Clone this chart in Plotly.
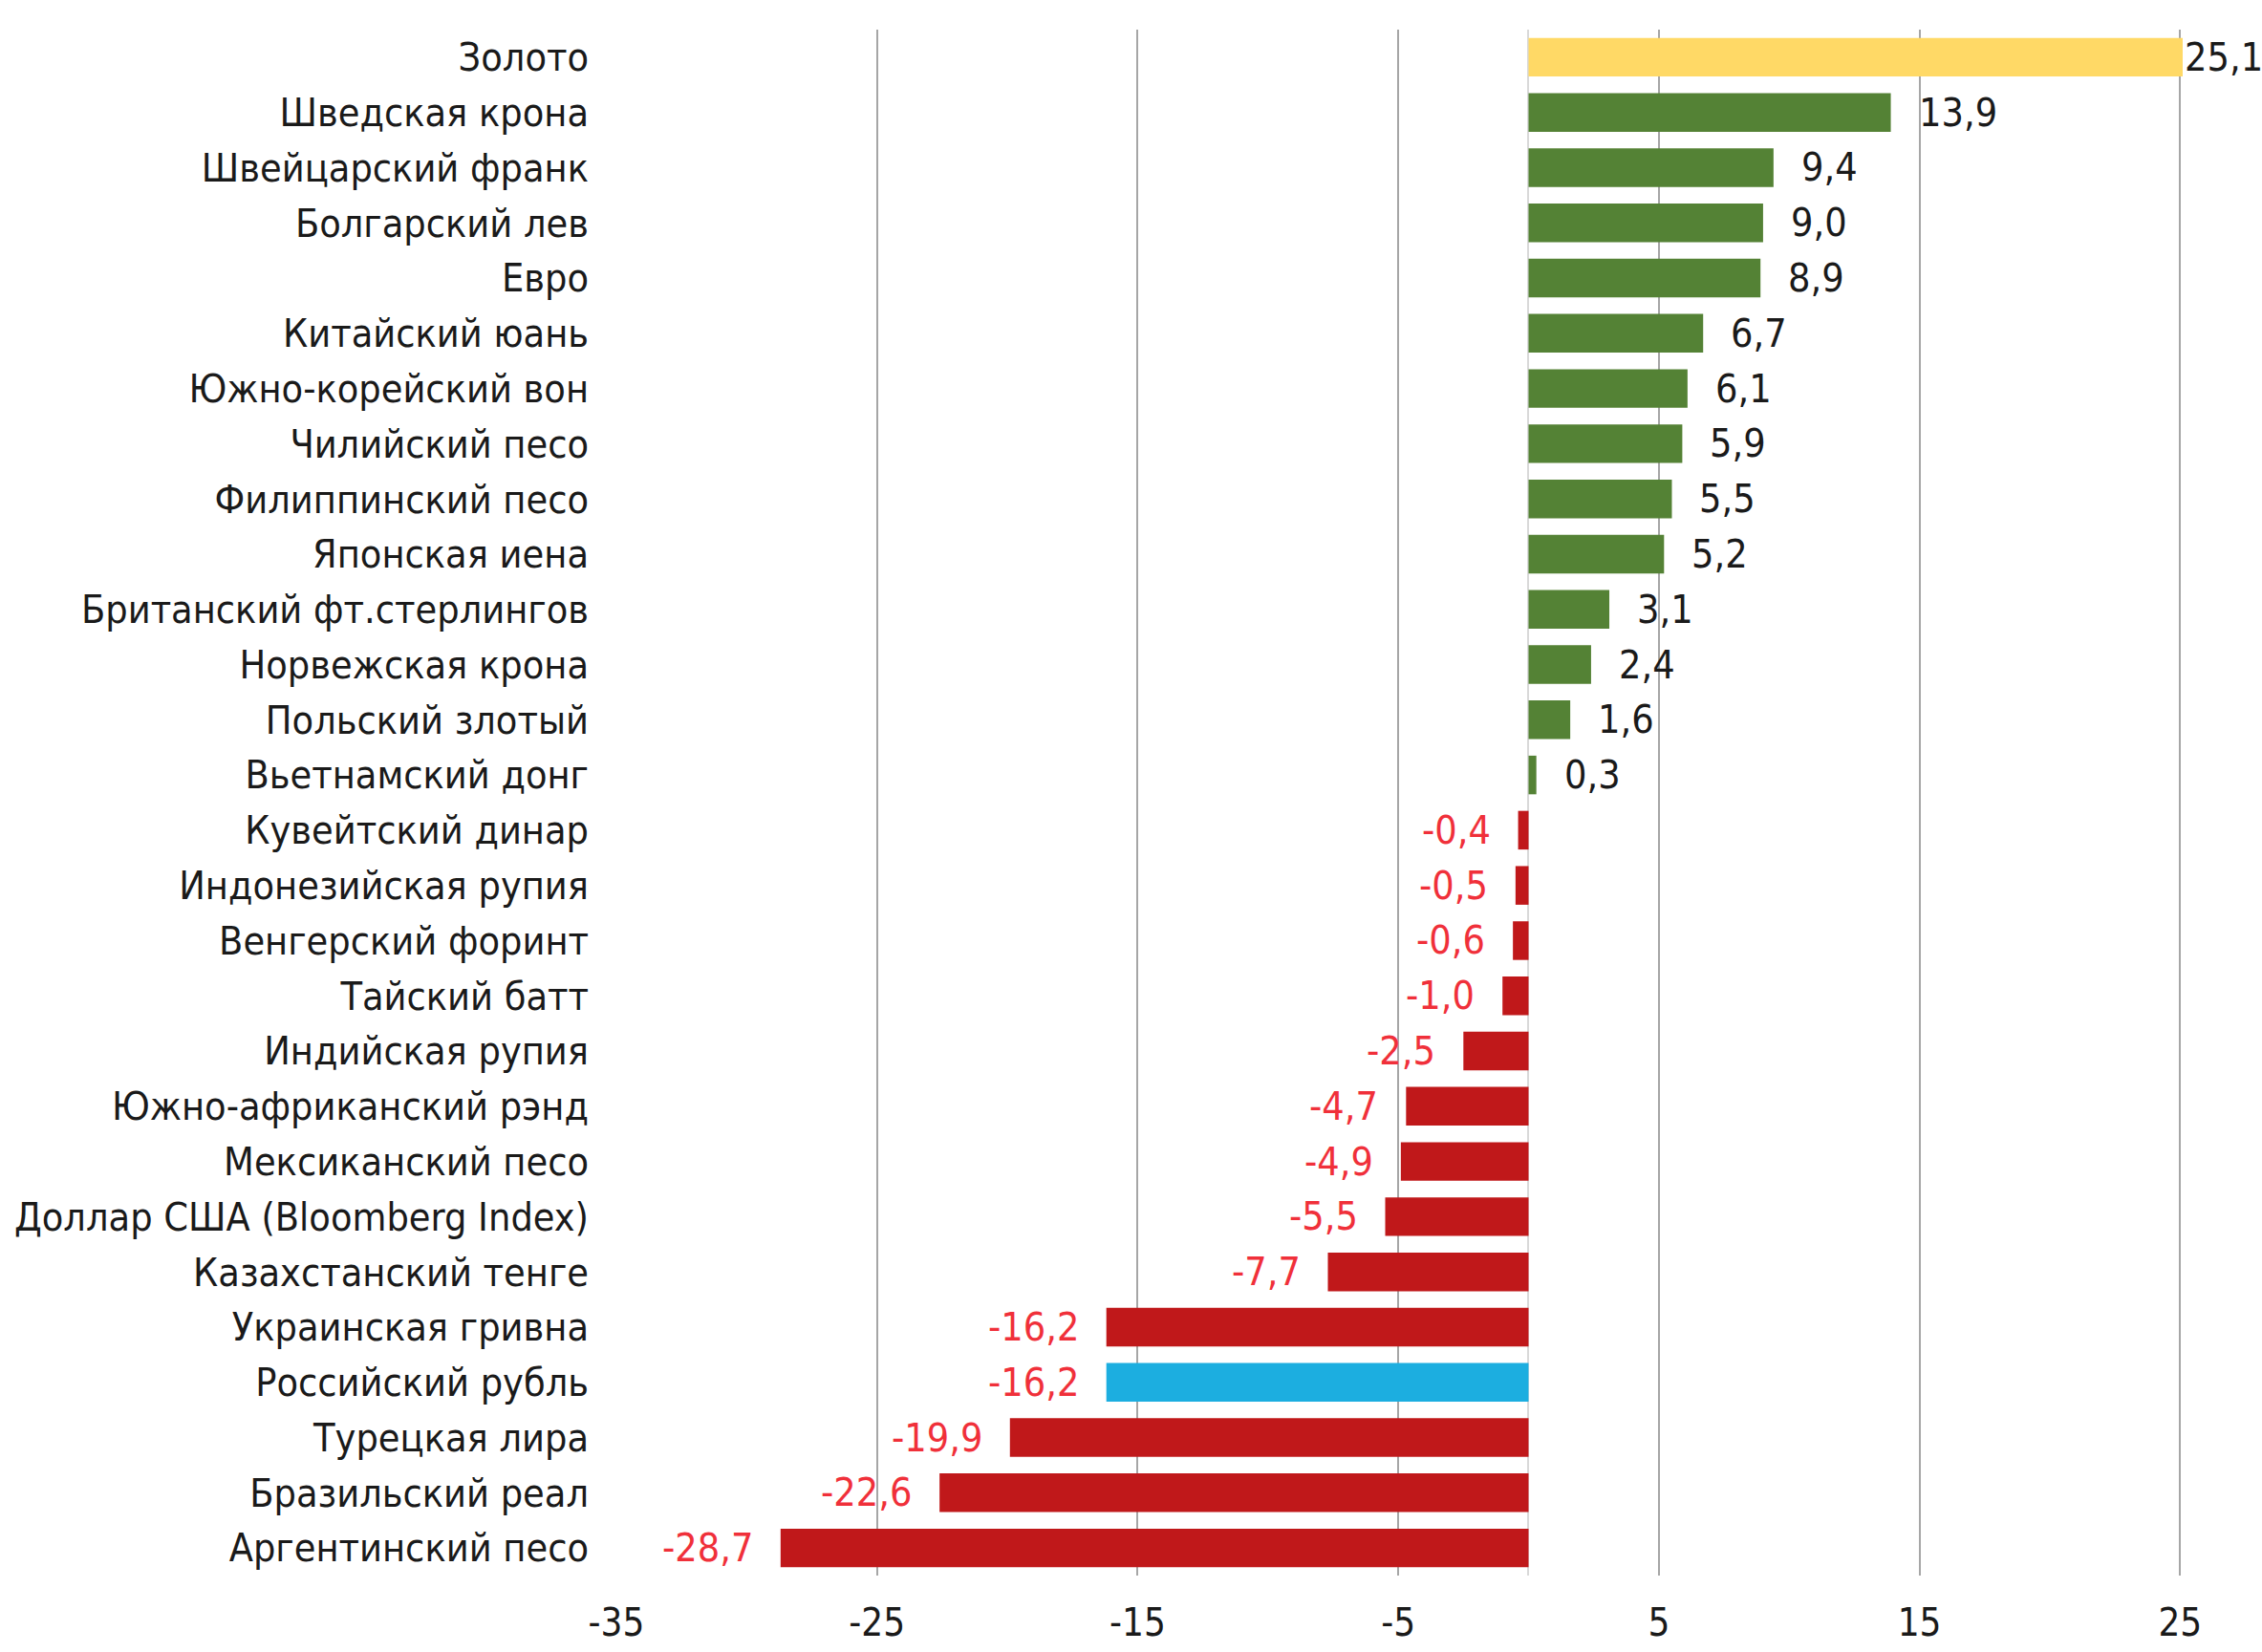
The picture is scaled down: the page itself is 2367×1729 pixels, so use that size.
import plotly.graph_objects as go

categories = [
    "Золото", "Шведская крона", "Швейцарский франк", "Болгарский лев", "Евро",
    "Китайский юань", "Южно-корейский вон", "Чилийский песо", "Филиппинский песо",
    "Японская иена", "Британский фт.стерлингов", "Норвежская крона", "Польский злотый",
    "Вьетнамский донг", "Кувейтский динар", "Индонезийская рупия", "Венгерский форинт",
    "Тайский батт", "Индийская рупия", "Южно-африканский рэнд", "Мексиканский песо",
    "Доллар США (Bloomberg Index)", "Казахстанский тенге", "Украинская гривна",
    "Российский рубль", "Турецкая лира", "Бразильский реал", "Аргентинский песо",
]
values = [25.1, 13.9, 9.4, 9.0, 8.9, 6.7, 6.1, 5.9, 5.5, 5.2, 3.1, 2.4, 1.6, 0.3,
          -0.4, -0.5, -0.6, -1.0, -2.5, -4.7, -4.9, -5.5, -7.7, -16.2, -16.2,
          -19.9, -22.6, -28.7]
tick_vals = [-35, -25, -15, -5, 5, 15, 25]

GOLD = "#FFD966"
GREEN = "#548235"
RED = "#C0181A"
BLUE = "#1CAEE0"
FONT = "DejaVu Sans Condensed, Roboto"
FS = 41

def bar_color(name, v):
    if name == "Золото":
        return GOLD
    if name == "Российский рубль":
        return BLUE
    return GREEN if v > 0 else RED

colors = [bar_color(c, v) for c, v in zip(categories, values)]

fig = go.Figure(go.Bar(
    x=values, y=categories, orientation="h",
    marker=dict(color=colors, line=dict(width=0)),
    width=0.7, hoverinfo="skip",
))

annotations = []
for i, (c, v) in enumerate(zip(categories, values)):
    label = f"{v:.1f}".replace(".", ",")
    if v >= 0:
        shift = 0 if i == 0 else 27
        annotations.append(dict(x=v, y=c, xref="x", yref="y", text=label,
                                showarrow=False, xanchor="left", xshift=shift,
                                font=dict(family=FONT, size=FS, color="#1a1a1a")))
    else:
        annotations.append(dict(x=v, y=c, xref="x", yref="y", text=label,
                                showarrow=False, xanchor="right", xshift=-27,
                                font=dict(family=FONT, size=FS, color="#F0303A")))

fig.update_layout(
    template="none",
    width=2367, height=1729,
    margin=dict(l=645, r=83, t=31, b=80, autoexpand=False),
    paper_bgcolor="white", plot_bgcolor="white",
    showlegend=False,
    font=dict(family=FONT, size=FS, color="#1a1a1a"),
    annotations=annotations,
    xaxis=dict(
        range=[-35, 25.1], tickvals=tick_vals,
        ticktext=[str(t) for t in tick_vals],
        showgrid=True, gridcolor="#A6A6A6", gridwidth=2,
        zeroline=True, zerolinecolor="#D9D9D9", zerolinewidth=2,
        showline=False, ticks="", ticklabelstandoff=22,
        tickfont=dict(family=FONT, size=40, color="#1a1a1a"),
        automargin=False, fixedrange=True,
    ),
    yaxis=dict(
        autorange="reversed", categoryorder="array", categoryarray=categories,
        showgrid=False, zeroline=False, showline=False, ticks="",
        ticklabelstandoff=28,
        tickfont=dict(family=FONT, size=FS, color="#1a1a1a"),
        automargin=False, fixedrange=True,
    ),
)

fig.write_html("out.html", config={"displayModeBar": False},
               post_script="document.body.style.margin='0';document.body.style.overflow='hidden';")
